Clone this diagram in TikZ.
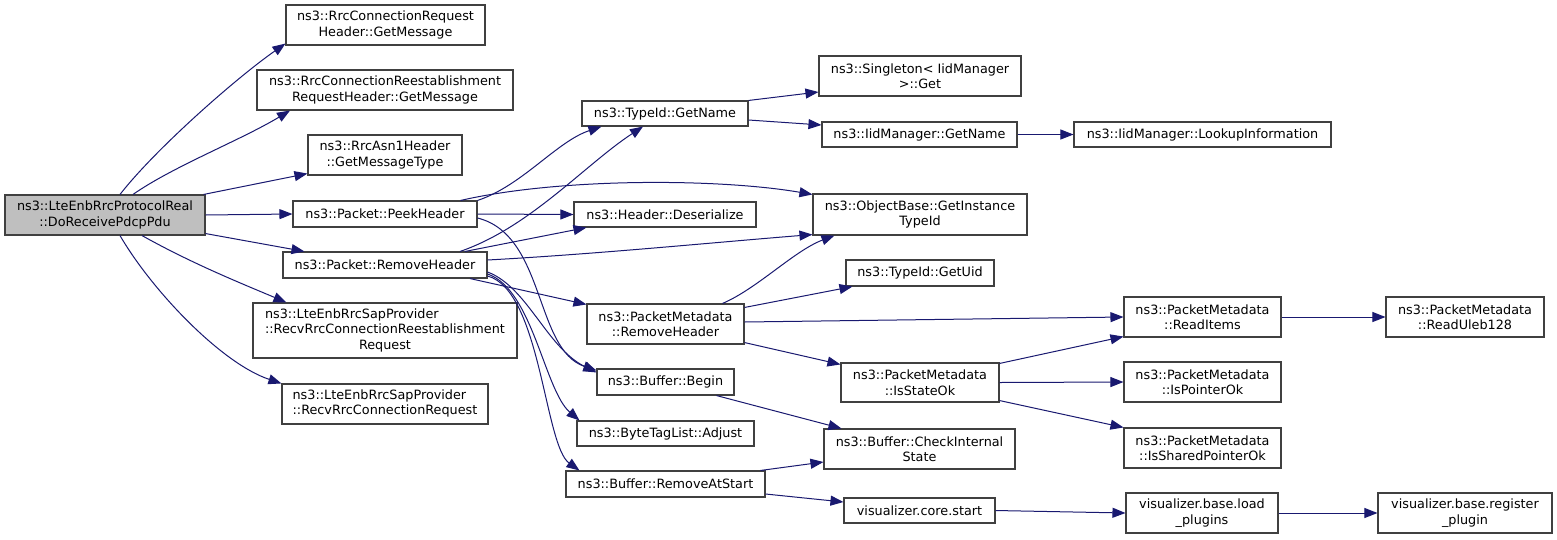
\documentclass[tikz,border=0pt]{standalone}
\usepackage{fontspec}
\setmainfont{DejaVu Sans}
\usetikzlibrary{arrows.meta}
\definecolor{edgec}{HTML}{191970}
\definecolor{boxc}{HTML}{404040}
\definecolor{mainc}{HTML}{BFBFBF}
\newcommand\fnt{\fontsize{12.8}{15.5}\selectfont}
\begin{document}
\begin{tikzpicture}[x=1pt,y=-1pt,
  fn/.style={draw=boxc, fill=white, line width=1.1pt, inner sep=0pt, align=center, font=\fnt},
  edg/.style={draw=edgec, line width=1pt, -{Triangle[length=13pt,width=10pt]}}]
\useasboundingbox[fill=white] (0,0) rectangle (1557,539);
% column 1
\node[fn, fill=mainc, minimum width=200pt, minimum height=40pt] (main) at (105,215) {ns3::LteEnbRrcProtocolReal\\::DoReceivePdcpPdu};
% column 2
\node[fn, minimum width=199pt, minimum height=40pt] (rq) at (385.5,25) {ns3::RrcConnectionRequest\\Header::GetMessage};
\node[fn, minimum width=256pt, minimum height=40pt] (re) at (385,90) {ns3::RrcConnectionReestablishment\\RequestHeader::GetMessage};
\node[fn, minimum width=154pt, minimum height=40pt] (mt) at (385,155) {ns3::RrcAsn1Header\\::GetMessageType};
\node[fn, minimum width=184pt, minimum height=26pt] (ph) at (385,214) {ns3::Packet::PeekHeader};
\node[fn, minimum width=204pt, minimum height=26pt] (rh) at (385,265) {ns3::Packet::RemoveHeader};
\node[fn, minimum width=264pt, minimum height=55pt] (sre) at (385,330.5) {\begin{tabular}{@{}l@{}}ns3::LteEnbRrcSapProvider\\::RecvRrcConnectionReestablishment\\\multicolumn{1}{@{}c@{}}{Request}\end{tabular}};
\node[fn, minimum width=206pt, minimum height=40pt] (srq) at (385,404) {\begin{tabular}{@{}l@{}}ns3::LteEnbRrcSapProvider\\::RecvRrcConnectionRequest\end{tabular}};
% column 3
\node[fn, minimum width=166pt, minimum height=25pt] (tgn) at (665,113.5) {ns3::TypeId::GetName};
\node[fn, minimum width=182pt, minimum height=25pt] (hd) at (665,214.5) {ns3::Header::Deserialize};
\node[fn, minimum width=157pt, minimum height=40pt] (pmrh) at (665.5,324) {ns3::PacketMetadata\\::RemoveHeader};
\node[fn, minimum width=137pt, minimum height=26pt] (bb) at (665.5,382) {ns3::Buffer::Begin};
\node[fn, minimum width=177pt, minimum height=25pt] (bta) at (665.5,433.5) {ns3::ByteTagList::Adjust};
\node[fn, minimum width=199pt, minimum height=26pt] (bra) at (665.5,484) {ns3::Buffer::RemoveAtStart};
% column 4
\node[fn, minimum width=202pt, minimum height=40pt] (sg) at (920,76) {ns3::Singleton< IidManager\\ >::Get};
\node[fn, minimum width=195pt, minimum height=25pt] (ign) at (919.5,134.5) {ns3::IidManager::GetName};
\node[fn, minimum width=214pt, minimum height=41pt] (ob) at (920,214.5) {ns3::ObjectBase::GetInstance\\TypeId};
\node[fn, minimum width=148pt, minimum height=26pt] (uid) at (920,273) {ns3::TypeId::GetUid};
\node[fn, minimum width=158pt, minimum height=39pt] (iso) at (920,382.5) {ns3::PacketMetadata\\::IsStateOk};
\node[fn, minimum width=191pt, minimum height=40pt] (cis) at (919.5,449) {ns3::Buffer::CheckInternal\\State};
\node[fn, minimum width=151pt, minimum height=25pt] (vcs) at (919.5,510.5) {visualizer.core.start};
% column 5
\node[fn, minimum width=257pt, minimum height=25pt] (lk) at (1202.5,134.5) {ns3::IidManager::LookupInformation};
\node[fn, minimum width=157pt, minimum height=40pt] (ri) at (1202.5,317) {ns3::PacketMetadata\\::ReadItems};
\node[fn, minimum width=157pt, minimum height=40pt] (ipo) at (1202.5,382) {ns3::PacketMetadata\\::IsPointerOk};
\node[fn, minimum width=157pt, minimum height=40pt] (isp) at (1202.5,448) {ns3::PacketMetadata\\::IsSharedPointerOk};
\node[fn, minimum width=152pt, minimum height=40pt] (lp) at (1202,513) {visualizer.base.load\\\_plugins};
% column 6
\node[fn, minimum width=158pt, minimum height=40pt] (ru) at (1465,317) {ns3::PacketMetadata\\::ReadUleb128};
\node[fn, minimum width=174pt, minimum height=40pt] (rp) at (1465,513) {visualizer.base.register\\\_plugin};
% edges from main
\draw[edg] ([xshift=15pt]main.north) .. controls +(35,-45) and +(-50,35) .. ([yshift=2pt]rq.south west);
\draw[edg] ([xshift=28pt]main.north) .. controls +(40,-28) and +(-50,30) .. ([xshift=-95pt]re.south);
\draw[edg] ([xshift=-2pt]main.north east) -- ([yshift=2pt]mt.south west);
\draw[edg] (main.east) -- (ph.west);
\draw[edg] ([yshift=2pt]main.south east) -- ([xshift=22pt]rh.north west);
\draw[edg] ([xshift=37pt]main.south) .. controls +(50,28) and +(-45,-19) .. ([xshift=34pt]sre.north west);
\draw[edg] ([xshift=15pt]main.south) .. controls +(32,55) and +(-60,-20) .. (srq.north west);
% PeekHeader
\draw[edg] (ph.north east) .. controls +(45,-15) and +(-45,15) .. ([xshift=20pt]tgn.south west);
\draw[edg] ([xshift=-17pt]ph.north east) .. controls +(100,-23) and +(-93,-16) .. ([yshift=-1pt]ob.north west);
\draw[edg] (ph.east) -- (hd.west);
\draw[edg] ([yshift=-4pt]ph.east) .. controls +(68,17) and +(-62,-21) .. ([yshift=-2pt]bb.north west);
% RemoveHeader
\draw[edg] ([xshift=75pt]rh.north) .. controls +(70,-24) and +(-58,38) .. ([xshift=-22pt]tgn.south);
\draw[edg] ([xshift=80pt]rh.north) -- ([xshift=13pt]hd.south west);
\draw[edg] ([yshift=5pt]rh.east) .. controls +(110,-6) and +(-100,8) .. ([yshift=1pt]ob.south west);
\draw[edg] ([xshift=85pt]rh.south) -- ([yshift=-1pt]pmrh.north west);
\draw[edg] ([yshift=-7pt]rh.east) .. controls +(40,15) and +(-50,-25) .. ([yshift=-4pt]bb.north west);
\draw[edg] ([yshift=-9pt]rh.east) .. controls +(45,15) and +(-35,-30) .. ([xshift=3pt]bta.north west);
\draw[edg] ([yshift=-11pt]rh.east) .. controls +(53,14) and +(-35,-25) .. ([xshift=14pt]bra.north west);
% column 3 out
\draw[edg] (tgn.north east) -- ([yshift=-16pt]sg.west);
\draw[edg] ([yshift=-6.5pt]tgn.east) -- ([yshift=9.5pt]ign.west);
\draw[edg] (ign.east) -- (lk.west);
\draw[edg] ([xshift=57pt]pmrh.north) .. controls +(35,-15) and +(-40,15) .. ([xshift=22pt]ob.south west);
\draw[edg] ([yshift=-4pt]pmrh.north east) -- ([xshift=7pt]uid.south west);
\draw[edg] ([yshift=2pt]pmrh.east) -- (ri.west);
\draw[edg] ([yshift=2pt]pmrh.south east) -- ([yshift=-2pt]iso.north west);
\draw[edg] ([xshift=51pt]bb.south) -- ([xshift=18pt]cis.north west);
\draw[edg] ([xshift=-5pt]bra.north east) -- ([yshift=-13pt]cis.west);
\draw[edg] ([yshift=-10pt]bra.east) -- ([yshift=8.5pt]vcs.west);
% column 4 out
\draw[edg] ([yshift=-1pt]iso.north east) -- ([yshift=1pt]ri.south west);
\draw[edg] (iso.east) -- (ipo.west);
\draw[edg] ([yshift=2pt]iso.south east) -- (isp.north west);
\draw[edg] (vcs.east) -- (lp.west);
% column 5 out
\draw[edg] (ri.east) -- (ru.west);
\draw[edg] (lp.east) -- (rp.west);
\end{tikzpicture}
\end{document}
